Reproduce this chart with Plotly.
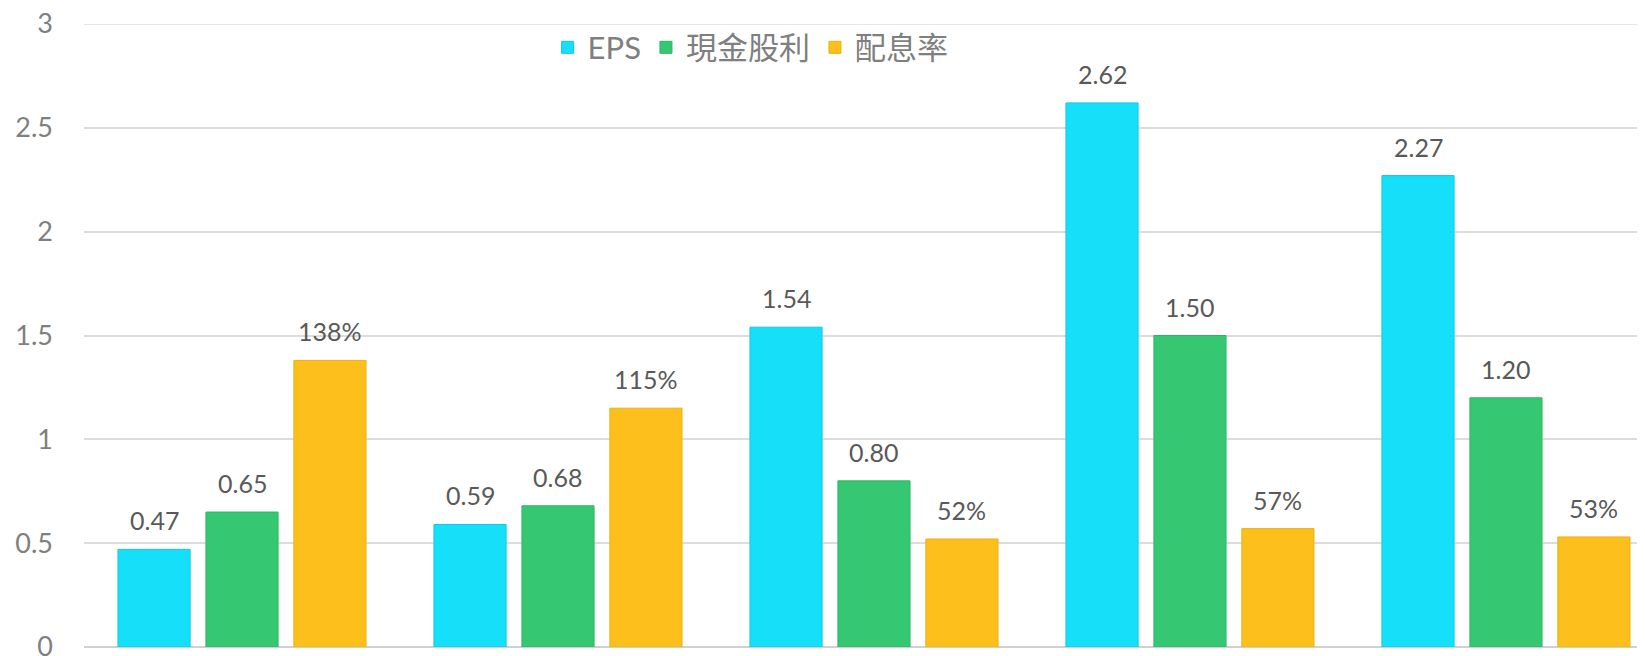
import plotly.graph_objects as go

categories = ["第1期", "第2期", "第3期", "第4期", "第5期"]
eps = [0.47, 0.59, 1.54, 2.62, 2.27]
cash_div = [0.65, 0.68, 0.80, 1.50, 1.20]
payout = [1.38, 1.15, 0.52, 0.57, 0.53]
payout_labels = ["138%", "115%", "52%", "57%", "53%"]
series_names = ["EPS", "現金股利", "配息率"]
y_ticks = [0, 0.5, 1, 1.5, 2, 2.5, 3]

# page body adds an 8px margin, so the figure is sized to fit inside the window
W, H = 1637, 648
ML, MR, MT, MB = 76, 0, 16, 9
XR = [-0.5, 4.44]
YR = [0, 3]
BARGAP, GROUPGAP = 0.165, 0.18
FONT = "Lato, Noto Sans CJK TC, sans-serif"
GRID = "#dcdcdc"

colors = ["#16dff9", "#35c772", "#fcbf1c"]
lines = ["#0bcbe2", "#2cb862", "#eab20c"]

fig = go.Figure()
series_vals = [eps, cash_div, payout]
for name, vals, c, lc in zip(series_names, series_vals, colors, lines):
    fig.add_trace(go.Bar(x=categories, y=vals, name=name,
                         marker=dict(color=c, line=dict(color=lc, width=1))))

plot_w = W - ML - MR
band = plot_w / (XR[1] - XR[0])
slot = band * (1 - BARGAP) / 3
label_sets = [[f"{v:.2f}" for v in eps], [f"{v:.2f}" for v in cash_div], payout_labels]
for i, (vals, labs) in enumerate(zip(series_vals, label_sets)):
    for cat, v, lab in zip(categories, vals, labs):
        fig.add_annotation(x=cat, y=v, text=lab, showarrow=False,
                           xshift=(i - 1) * slot, yshift=12, yanchor="bottom",
                           font=dict(family=FONT, size=25, color="#595959"))

# top gridline (plotly skips the grid line lying on the plot edge)
fig.add_shape(type="line", xref="paper", x0=0, x1=1, yref="y",
              y0=y_ticks[-1], y1=y_ticks[-1], layer="below",
              line=dict(color=GRID, width=1.5))

fig.update_layout(
    width=W, height=H,
    margin=dict(l=ML, r=MR, t=MT, b=MB, autoexpand=False),
    paper_bgcolor="white", plot_bgcolor="white",
    barmode="group", bargap=BARGAP, bargroupgap=GROUPGAP,
    font=dict(family=FONT, color="#7f7f7f"),
    showlegend=True,
    legend=dict(orientation="h", x=0.297, y=0.962, xanchor="left", yanchor="middle",
                font=dict(family=FONT, size=31, color="#7f7f7f"),
                bgcolor="rgba(0,0,0,0)", itemwidth=30, tracegroupgap=0),
    xaxis=dict(range=XR, showticklabels=False, showgrid=False, zeroline=False,
               showline=False, ticks="", automargin=False),
    yaxis=dict(range=YR, tickvals=y_ticks, ticktext=[f"{t:g}" for t in y_ticks],
               showgrid=True, gridcolor=GRID, gridwidth=1.5,
               zeroline=True, zerolinecolor="#d0d0d0", zerolinewidth=2,
               showline=False, ticks="", ticklabelstandoff=30,
               automargin=False, ticklabeloverflow="allow",
               tickfont=dict(family=FONT, size=27, color="#7f7f7f")),
)

fig.write_html("out.html")
